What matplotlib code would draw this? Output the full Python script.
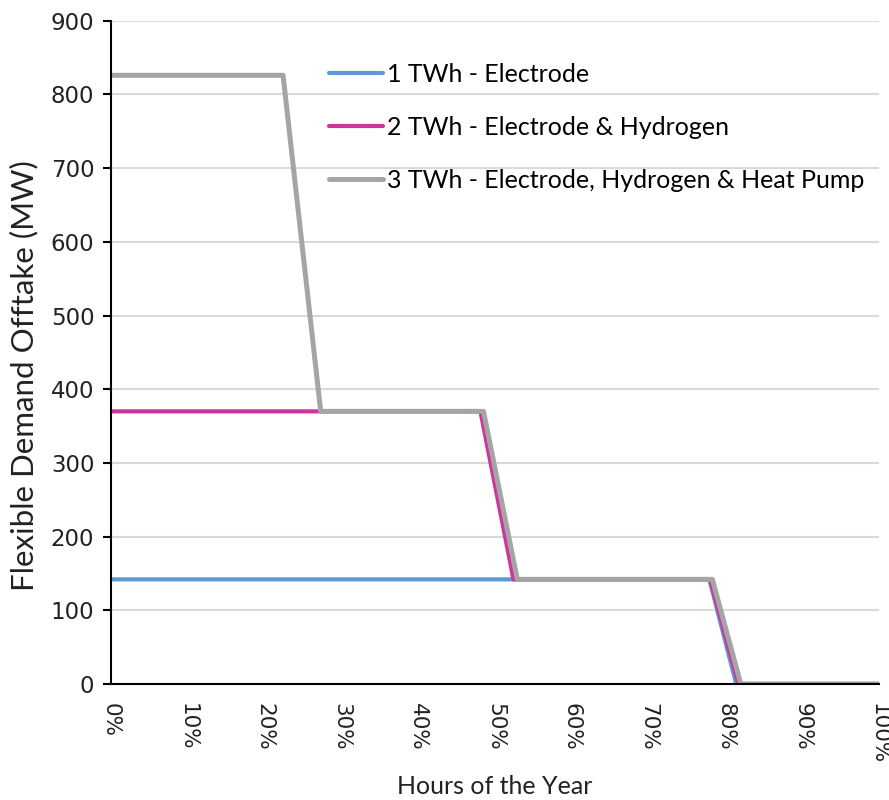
#!/usr/bin/env python3
"""Flexible demand offtake duration curves."""
import matplotlib
matplotlib.use("Agg")
import matplotlib.pyplot as plt
from matplotlib.ticker import FuncFormatter

# --- data: share of hours (%) vs offtake (MW) ---
labels = ["1 TWh - Electrode",
          "2 TWh - Electrode & Hydrogen",
          "3 TWh - Electrode, Hydrogen & Heat Pump"]
x_1twh = [0, 77.9, 81.4, 100]
y_1twh = [142, 142, 0, 0]
x_2twh = [0, 48.1, 52.4, 78.0, 81.7, 100]
y_2twh = [370, 370, 142, 142, 0, 0]
x_3twh = [0, 22.4, 27.3, 48.5, 52.9, 78.3, 82.0, 100]
y_3twh = [826, 826, 370, 370, 142, 142, 0, 0]
colors = ["#5B9BD5", "#D1339C", "#A5A5A5"]
widths = [3.0, 3.0, 3.6]

fig = plt.figure(figsize=(8.89, 8.0), dpi=100)
ax = fig.add_axes([0.1249, 0.145, 0.8639, 0.829])

for xs, ys, c, lw, lab in zip([x_1twh, x_2twh, x_3twh], [y_1twh, y_2twh, y_3twh],
                              colors, widths, labels):
    ax.plot(xs, ys, color=c, lw=lw, label=lab, solid_capstyle="round",
            solid_joinstyle="round")

ax.set_xlim(0, 100)
ax.set_ylim(0, 900)
ax.set_xticks(range(0, 101, 10))
ax.set_yticks(range(0, 901, 100))
ax.xaxis.set_major_formatter(FuncFormatter(lambda v, _: f"{v:.0f}%"))
ax.tick_params(axis="x", length=0, pad=14, labelsize=15.5, labelrotation=-90,
               labelcolor="#222222")
ax.tick_params(axis="y", length=6, width=1.5, direction="out", labelsize=16.5,
               pad=6, labelcolor="#222222", color="black")
for lab in ax.get_xticklabels():
    lab.set_va("top")
    lab.set_ha("center")

ax.grid(axis="y", color="#D9D9D9", lw=1.5)
ax.set_axisbelow(True)
for side in ("top", "right"):
    ax.spines[side].set_visible(False)
for side in ("left", "bottom"):
    ax.spines[side].set_color("black")
    ax.spines[side].set_linewidth(1.5)

fig.text(0.011, 0.531, "Flexible Demand Offtake (MW)", family="Lato",
         fontsize=22.5, color="#222222", rotation=90, ha="left", va="center")
fig.text(0.557, 0.008, "Hours of the Year", family="Lato", fontsize=18,
         color="#222222", ha="center", va="baseline")

ax.legend(loc="upper left", bbox_to_anchor=(0.271, 0.952), frameon=False,
          prop={"family": "Lato", "size": 18}, handlelength=2.15,
          handletextpad=0.15, labelspacing=1.2, borderaxespad=0)

fig.savefig("out.png", dpi=100)
